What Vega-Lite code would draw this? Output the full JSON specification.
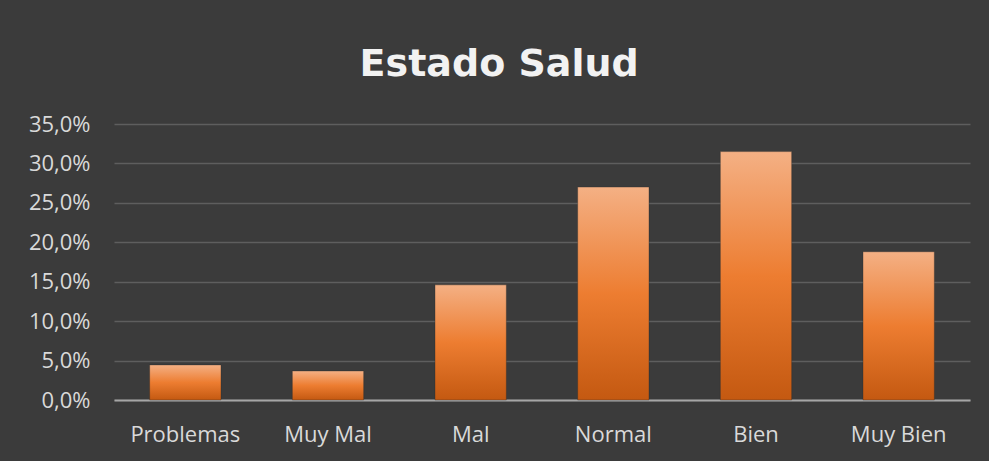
{
  "$schema": "https://vega.github.io/schema/vega-lite/v6.json",
  "width": 856,
  "height": 276,
  "autosize": {"type": "none"},
  "padding": {"left": 114, "top": 124, "right": 19, "bottom": 61},
  "background": "#3b3b3b",
  "title": {
    "text": "Estado Salud",
    "font": "DejaVu Sans",
    "fontSize": 38,
    "fontWeight": "bold",
    "color": "#f2f2f2",
    "anchor": "middle",
    "frame": "bounds",
    "offset": 29
  },
  "config": {
    "view": {"stroke": null},
    "axis": {
      "labelFont": "Open Sans",
      "labelFontSize": 22,
      "labelColor": "#d9d9d9",
      "ticks": false,
      "title": null
    }
  },
  "data": {
    "values": [
      {"estado": "Problemas", "pct": 0.0445},
      {"estado": "Muy Mal", "pct": 0.0368},
      {"estado": "Mal", "pct": 0.146},
      {"estado": "Normal", "pct": 0.270},
      {"estado": "Bien", "pct": 0.315},
      {"estado": "Muy Bien", "pct": 0.188}
    ]
  },
  "mark": {
    "type": "bar",
    "fill": {
      "gradient": "linear",
      "x1": 0, "y1": 0, "x2": 0, "y2": 1,
      "stops": [
        {"offset": 0, "color": "#f4b084"},
        {"offset": 0.5, "color": "#ed7d31"},
        {"offset": 1, "color": "#c45911"}
      ]
    },
    "stroke": "#2a2a2a",
    "strokeOpacity": 0.35,
    "strokeWidth": 1
  },
  "encoding": {
    "x": {
      "field": "estado",
      "type": "nominal",
      "sort": null,
      "scale": {"paddingInner": 0.5, "paddingOuter": 0.25},
      "axis": {
        "labelAngle": 0,
        "labelPadding": 24,
        "domainColor": "#a6a6a6",
        "domainWidth": 2,
        "grid": false
      }
    },
    "y": {
      "field": "pct",
      "type": "quantitative",
      "scale": {"domain": [0, 0.35], "nice": false},
      "axis": {
        "format": ".1%",
        "formatType": "number",
        "labelExpr": "replace(datum.label, '.', ',')",
        "values": [0, 0.05, 0.1, 0.15, 0.2, 0.25, 0.3, 0.35],
        "labelPadding": 24,
        "domain": false,
        "grid": true,
        "gridColor": "#5e5e5e",
        "gridWidth": 1.5
      }
    }
  }
}
